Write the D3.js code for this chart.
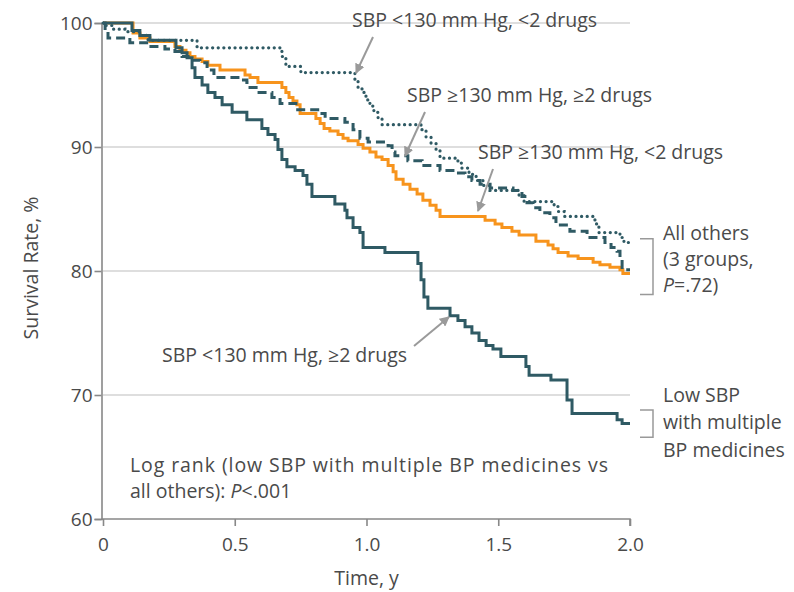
<!DOCTYPE html>
<html><head><meta charset="utf-8">
<script src="https://cdn.jsdelivr.net/npm/d3@7"></script>
<style>
body{margin:0;background:#fff;}
text{font-family:"Open Sans","Noto Sans",sans-serif;fill:#4a4a4a;}
</style></head><body>
<svg id="c" width="794" height="592"></svg>
<script>
// ---- data ----
const xTicks = [0, 0.5, 1.0, 1.5, 2.0];
const xTickLabels = ["0", "0.5", "1.0", "1.5", "2.0"];
const yTicks = [60, 70, 80, 90, 100];

// SBP <130 mm Hg, >=2 drugs (solid)
const lowMultiT = [0,0.110,0.140,0.178,0.277,0.300,0.319,0.338,0.349,0.376,0.398,0.425,0.452,0.490,0.546,0.603,0.626,0.653,0.664,0.679,0.698,0.729,0.759,0.774,0.793,0.880,0.918,0.926,0.949,0.975,0.987,1.070,1.195,1.207,1.218,1.233,1.317,1.347,1.374,1.400,1.427,1.454,1.480,1.510,1.605,1.617,1.700,1.761,1.780,1.951,1.970,2.0];
const lowMultiS = [100,99.4,99.0,98.6,98.0,97.6,97.2,96.4,95.6,95.0,94.4,94.0,93.4,92.8,92.2,91.5,91.0,90.6,89.8,89.0,88.4,88.1,87.7,87.0,86.0,85.4,84.9,84.3,83.5,83.1,81.9,81.5,80.6,79.3,77.9,77.0,76.4,76.0,75.5,75.0,74.4,74.0,73.7,73.1,72.3,71.6,71.2,69.6,68.5,68.0,67.7,67.7];

// SBP <130 mm Hg, <2 drugs (dotted)
const lowFewT = [0,0.011,0.034,0.083,0.140,0.171,0.357,0.679,0.694,0.751,0.956,0.968,0.983,0.998,1.013,1.028,1.044,1.059,1.207,1.226,1.245,1.264,1.279,1.347,1.362,1.389,1.416,1.442,1.469,1.579,1.598,1.712,1.727,1.750,1.867,1.882,1.962,1.977,2.0];
const lowFewS = [100,99.8,99.5,99.3,99.0,98.6,98.0,97.3,96.5,96.0,95.4,94.8,94.4,93.8,93.3,92.8,92.3,91.8,91.4,90.8,90.3,89.8,89.1,88.7,88.3,87.8,87.3,86.9,86.5,86.1,85.6,85.2,84.8,84.4,83.8,83.1,82.7,82.3,82.3];

// SBP >=130 mm Hg, >=2 drugs (dashed)
const highMultiT = [0,0.008,0.019,0.102,0.175,0.235,0.273,0.300,0.323,0.368,0.395,0.421,0.520,0.546,0.558,0.581,0.641,0.672,0.732,0.824,0.843,0.918,0.949,0.975,1.006,1.082,1.097,1.108,1.157,1.211,1.279,1.336,1.374,1.400,1.431,1.469,1.556,1.590,1.609,1.632,1.658,1.696,1.719,1.772,1.837,1.905,1.928,1.951,1.962,1.970,2.0];
const highMultiS = [100,99.4,98.8,98.4,98.1,97.9,97.7,97.3,97.0,96.8,96.2,95.6,95.4,95.2,94.8,94.4,94.0,93.5,93.0,92.7,92.3,92.0,91.4,90.7,90.4,90.1,89.6,89.3,88.9,88.5,88.1,87.9,87.6,87.3,87.0,86.7,86.5,86.0,85.5,85.1,84.7,84.3,83.7,83.2,82.7,82.3,81.9,81.6,80.9,80.1,80.1];

// SBP >=130 mm Hg, <2 drugs (orange)
const highFewT = [0,0.114,0.140,0.178,0.273,0.292,0.315,0.330,0.349,0.376,0.398,0.444,0.539,0.558,0.588,0.679,0.694,0.706,0.721,0.736,0.748,0.808,0.824,0.839,0.861,0.892,0.911,0.930,0.968,0.987,1.013,1.036,1.059,1.082,1.101,1.112,1.139,1.165,1.192,1.214,1.241,1.264,1.279,1.450,1.488,1.514,1.552,1.579,1.643,1.689,1.708,1.727,1.765,1.803,1.860,1.886,1.924,1.962,1.973,2.0];
const highFewS = [100,99.2,98.8,98.5,98.1,97.8,97.6,97.3,97.1,96.9,96.6,96.2,95.8,95.6,95.2,94.8,94.4,94.0,93.7,93.4,92.7,92.3,91.9,91.5,91.3,91.0,90.7,90.5,90.2,89.9,89.6,89.2,89.0,88.5,88.0,87.4,87.0,86.6,86.2,85.7,85.3,84.9,84.4,84.1,83.8,83.5,83.2,82.9,82.4,82.1,81.8,81.5,81.2,81.0,80.7,80.5,80.3,80.1,79.8,79.8];

const seriesNames = ["SBP <130 mm Hg, <2 drugs","SBP ≥130 mm Hg, ≥2 drugs","SBP ≥130 mm Hg, <2 drugs","SBP <130 mm Hg, ≥2 drugs"];

// ---- drawing ----
const svg = d3.select("#c");
const M = {l:103, r:630, t:23, b:519};
const x = d3.scaleLinear().domain([0,2]).range([M.l, M.r]);
const y = d3.scaleLinear().domain([60,100]).range([M.b, M.t]);
const teal = "#2f5a64", orange = "#f7941d", grey = "#9a9a9a";
const FS = 19.5;

// gridlines
svg.append("g").selectAll("line").data(yTicks.filter(d=>d>60)).join("line")
  .attr("x1", M.l).attr("x2", M.r).attr("y1", d=>y(d)).attr("y2", d=>y(d))
  .attr("stroke", "#dedede").attr("stroke-width", 2);

// axes
const yAxis = svg.append("g").attr("transform", `translate(${M.l-1.5},0)`)
  .call(d3.axisLeft(y).tickValues(yTicks).tickSize(7).tickFormat(d3.format("d")));
const xAxis = svg.append("g").attr("transform", `translate(0,${M.b})`)
  .call(d3.axisBottom(x).tickValues(xTicks).tickSize(7).tickFormat((d,i)=>xTickLabels[i]));
[yAxis, xAxis].forEach(g=>{
  g.select(".domain").attr("stroke","#888").attr("stroke-width",1.6);
  g.selectAll(".tick line").attr("stroke","#888").attr("stroke-width",1.6);
  g.selectAll(".tick text").attr("font-size",19).attr("fill","#4a4a4a")
   .style("font-family",'"Open Sans","Noto Sans",sans-serif');
});
yAxis.selectAll(".tick text").attr("x",-9).attr("dy","0.36em");
xAxis.selectAll(".tick text").attr("y",19).attr("dy","0.71em");
xAxis.select(".domain").attr("d", `M${M.l-1.5},0H${M.r}V7`);

// axis titles
svg.append("text").attr("transform","translate(38,268) rotate(-90)").attr("text-anchor","middle")
  .attr("font-size",FS).text("Survival Rate, %");
svg.append("text").attr("x", x(1)).attr("y", 585).attr("text-anchor","middle")
  .attr("font-size",FS).text("Time, y");

// curves
const line = d3.line().x(d=>x(d[0])).y(d=>y(d[1])).curve(d3.curveStepAfter);
const zip = (t,s)=>t.map((v,i)=>[v,s[i]]);
const curves = [
  {t:highFewT, s:highFewS, color:orange, dash:null, cap:"butt"},
  {t:highMultiT, s:highMultiS, color:teal, dash:"9,5", cap:"butt"},
  {t:lowFewT, s:lowFewS, color:teal, dash:"0.1,5.5", cap:"round"},
  {t:lowMultiT, s:lowMultiS, color:teal, dash:null, cap:"butt"}
];
curves.forEach(c=>{
  svg.append("path").attr("d", line(zip(c.t,c.s))).attr("fill","none")
    .attr("stroke", c.color).attr("stroke-width", c.dash && c.cap==="round" ? 3.2 : 3)
    .attr("stroke-dasharray", c.dash).attr("stroke-linecap", c.cap)
    .attr("stroke-linejoin","miter");
});

// annotations with arrows
const defs = svg.append("defs");
defs.append("marker").attr("id","ah").attr("viewBox","0 0 10 10").attr("refX",9).attr("refY",5)
  .attr("markerWidth",5).attr("markerHeight",5).attr("orient","auto")
  .append("path").attr("d","M0,0L10,5L0,10Z").attr("fill",grey);

const ann = [
  {label:seriesNames[0], tx:352, ty:27, a:[373,37,356,73]},
  {label:seriesNames[1], tx:407, ty:102, a:[425,112,405,156]},
  {label:seriesNames[2], tx:478, ty:159, a:[493,169,478,211]},
  {label:seriesNames[3], tx:162, ty:362, a:[414,346,449,317]}
];
ann.forEach(d=>{
  svg.append("text").attr("x",d.tx).attr("y",d.ty).attr("font-size",FS).text(d.label);
  svg.append("line").attr("x1",d.a[0]).attr("y1",d.a[1]).attr("x2",d.a[2]).attr("y2",d.a[3])
    .attr("stroke",grey).attr("stroke-width",2).attr("marker-end","url(#ah)");
});

// brackets
function bracket(y1,y2){
  svg.append("path").attr("d",`M640,${y1}H653V${y2}H640`).attr("fill","none")
    .attr("stroke","#999").attr("stroke-width",1.5);
}
bracket(y(82.6), y(78.1));
bracket(y(68.8), y(66.6));

const r1 = svg.append("text").attr("x",663).attr("font-size",FS);
r1.append("tspan").attr("x",663).attr("y",240).text("All others");
r1.append("tspan").attr("x",663).attr("y",266).text("(3 groups,");
const t3 = r1.append("tspan").attr("x",663).attr("y",292);
t3.append("tspan").attr("font-style","italic").text("P");
t3.append("tspan").text("=.72)");

const r2 = svg.append("text").attr("font-size",FS);
r2.append("tspan").attr("x",663).attr("y",402).text("Low SBP");
r2.append("tspan").attr("x",663).attr("y",429).text("with multiple");
r2.append("tspan").attr("x",663).attr("y",457).text("BP medicines");

svg.append("text").attr("x",130).attr("y",472).attr("font-size",FS)
  .attr("textLength",478).attr("lengthAdjust","spacing")
  .text("Log rank (low SBP with multiple BP medicines vs");
const l2 = svg.append("text").attr("x",130).attr("y",498).attr("font-size",FS);
l2.append("tspan").text("all others): ");
l2.append("tspan").attr("font-style","italic").text("P");
l2.append("tspan").text("<.001");
</script></body></html>
